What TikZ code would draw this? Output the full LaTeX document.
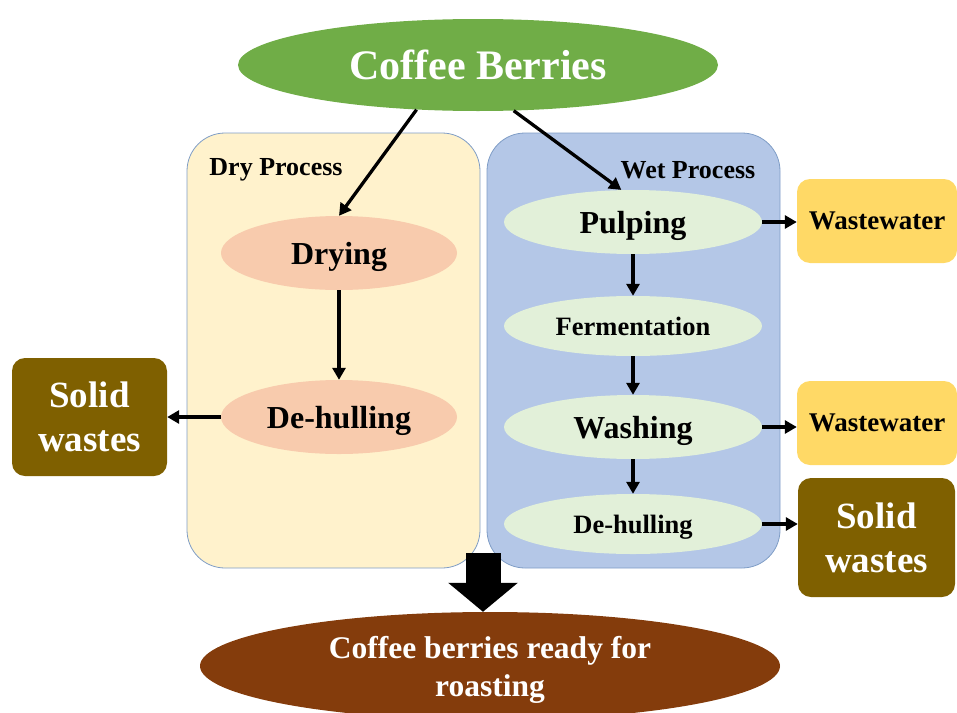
\documentclass[tikz,border=0pt]{standalone}
\usepackage{fontspec}
\setmainfont{Liberation Serif}
\usetikzlibrary{shapes.geometric,arrows.meta}

\definecolor{berrygreen}{HTML}{70AD47}
\definecolor{drybg}{HTML}{FFF2CC}
\definecolor{wetbg}{HTML}{B4C7E7}
\definecolor{boxline}{HTML}{7F9DC6}
\definecolor{salmon}{HTML}{F8CBAD}
\definecolor{palegreen}{HTML}{E2F0D9}
\definecolor{watery}{HTML}{FFD966}
\definecolor{solidbr}{HTML}{7F6000}
\definecolor{roastbr}{HTML}{843C0C}

\newcommand{\fs}[2]{\fontsize{#1}{#2}\selectfont\bfseries}

\begin{document}
\begin{tikzpicture}[x=1pt,y=1pt,
		arr/.style={line width=3.3pt,-{Triangle[length=12pt,width=13pt]}},
		proc/.style={draw=boxline,line width=0.8pt,rounded corners=38pt,minimum width=293pt,minimum height=435pt},
		oval/.style={ellipse,inner sep=0pt,text depth=0pt},
		waste/.style={rounded corners=13pt,inner sep=0pt,align=center}]
		\useasboundingbox (0,0) rectangle (957,-712);
		
		% the two process boxes
		\node[proc,fill=drybg] (dry) at (333.5,-350.5) {};
		\node[proc,fill=wetbg] (wet) at (633.5,-350.5) {};
		\node[font=\fs{26}{30}] (drylbl) at (276,-170) {Dry Process};
		\node[font=\fs{26}{30}] (wetlbl) at (688,-170) {Wet Process};
		
		\node[oval,fill=berrygreen,text=white,minimum width=480pt,minimum height=92pt,font=\fs{42}{48}] (top) at (478,-65) {Coffee Berries};
		
		% dry side
		\node[oval,fill=salmon,minimum width=236pt,minimum height=74pt,font=\fs{32}{36}] (drying) at (339,-253) {Drying};
		\node[oval,fill=salmon,minimum width=236pt,minimum height=74pt,font=\fs{32}{36}] (dhdry) at (339,-417) {De-hulling};
		\node[waste,fill=solidbr,text=white,minimum width=155pt,minimum height=118pt,font=\fs{37}{44}] (swleft) at (89.5,-417) {Solid\\wastes};
		
		% wet side
		\node[oval,fill=palegreen,minimum width=258pt,minimum height=64pt,font=\fs{32}{36}] (pulp) at (633,-222) {Pulping};
		\node[oval,fill=palegreen,minimum width=258pt,minimum height=60pt,font=\fs{26.5}{30}] (ferm) at (633,-326) {Fermentation};
		\node[oval,fill=palegreen,minimum width=258pt,minimum height=64pt,font=\fs{32}{36}] (wash) at (633,-427) {Washing};
		\node[oval,fill=palegreen,minimum width=258pt,minimum height=60pt,font=\fs{26.5}{30}] (dhwet) at (633,-524) {De-hulling};
		\node[waste,fill=watery,minimum width=160pt,minimum height=84pt,font=\fs{27}{30}] (ww1) at (877,-221) {Wastewater};
		\node[waste,fill=watery,minimum width=160pt,minimum height=84pt,font=\fs{27}{30}] (ww2) at (877,-423) {Wastewater};
		\node[waste,fill=solidbr,text=white,minimum width=157pt,minimum height=119pt,font=\fs{37}{44}] (swright) at (876.5,-537.5) {Solid\\wastes};
		
		\node[oval,fill=roastbr,text=white,align=center,minimum width=580pt,minimum height=108pt,font=\fs{31.5}{38}] (roast) at (490,-666) {Coffee berries ready for\\roasting};
		
		% arrows
		\draw[arr] (top.-144) -- (drying.north);
		\draw[arr] (top.-52) -- (pulp.110);
		\draw[arr] (drying.south) -- (dhdry.north);
		\draw[arr] (dhdry.west) -- (swleft.east);
		\draw[arr] (pulp.south) -- (ferm.north);
		\draw[arr] (ferm.south) -- (wash.north);
		\draw[arr] (wash.south) -- (dhwet.north);
		\draw[arr] (pulp.east) -- (pulp.east -| ww1.west);
		\draw[arr] (wash.east) -- (wash.east -| ww2.west);
		\draw[arr] (dhwet.east) -- (dhwet.east -| swright.west);
		
		% big block arrow
		\coordinate (bigtop) at (483,-553);
		\draw[line width=35pt,-{Triangle[length=29pt,width=68pt]}] (bigtop) -- (bigtop |- roast.north);
	\end{tikzpicture}
\end{document}
